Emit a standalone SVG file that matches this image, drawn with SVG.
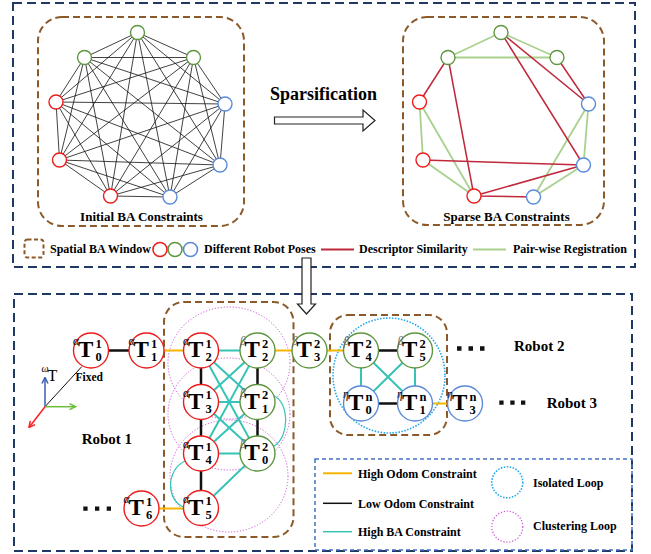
<svg xmlns="http://www.w3.org/2000/svg" width="651" height="554" viewBox="0 0 651 554">
<style>
text{font-family:"Liberation Serif","Times New Roman",serif;font-weight:bold;fill:#000}
.lbl{font-size:13px}
.leg{font-size:12px}
.rob{font-size:15px}
.T{font-size:23px}
.s{font-size:12.5px}
.g{font-size:11.5px;font-style:italic;font-weight:normal}
.gb{font-size:11.5px;font-style:italic;font-weight:normal;fill:#666}
.navy{fill:none;stroke:#203864;stroke-width:2;stroke-dasharray:9 5}
.win{fill:none;stroke:#8c5a2a;stroke-width:2;stroke-dasharray:7 4}
.nr{fill:#fff;stroke:#ee1c1c;stroke-width:1.4}
.ng{fill:#fff;stroke:#5e9640;stroke-width:1.4}
.nb{fill:#fff;stroke:#5a8ad8;stroke-width:1.4}
.k9{fill:none;stroke:#111;stroke-width:0.8}
.dsim{fill:none;stroke:#c0283c;stroke-width:1.5}
.preg{fill:none;stroke:#a9d18e;stroke-width:1.8}
.odl{fill:none;stroke:#111;stroke-width:2.5}
.odh{fill:none;stroke:#f7b500;stroke-width:2}
.ba{fill:none;stroke:#35c4b5;stroke-width:2}
.bac{fill:none;stroke:#35c4b5;stroke-width:1.2}
.cl{fill:none;stroke:#cf55dd;stroke-width:1;stroke-dasharray:1.2 1.8}
.iso{fill:none;stroke:#1fa8f0;stroke-width:1.6;stroke-dasharray:1.5 1.5}
.harrow{fill:#fff;stroke:#222;stroke-width:1.2}
</style>
<defs>
<marker id="mb" markerUnits="userSpaceOnUse" markerWidth="8" markerHeight="8" viewBox="0 0 8 8" refX="7" refY="4" orient="auto"><path d="M1,1 L7,4 L1,7" fill="none" stroke="#3a5fb0" stroke-width="1.5"/></marker>
<marker id="mg" markerUnits="userSpaceOnUse" markerWidth="8" markerHeight="8" viewBox="0 0 8 8" refX="7" refY="4" orient="auto"><path d="M1,1 L7,4 L1,7" fill="none" stroke="#6abf3a" stroke-width="1.5"/></marker>
<marker id="mr" markerUnits="userSpaceOnUse" markerWidth="8" markerHeight="8" viewBox="0 0 8 8" refX="7" refY="4" orient="auto"><path d="M1,1 L7,4 L1,7" fill="none" stroke="#ff2020" stroke-width="1.5"/></marker>
<g id="topnodes">
<circle class="ng" cx="137.5" cy="32.5" r="7"/>
<circle class="ng" cx="84.5" cy="57.5" r="7"/>
<circle class="ng" cx="193.5" cy="57.5" r="7"/>
<circle class="nr" cx="56" cy="102" r="7"/>
<circle class="nb" cx="225" cy="104" r="7"/>
<circle class="nr" cx="59.5" cy="160" r="7"/>
<circle class="nb" cx="220" cy="165" r="7"/>
<circle class="nr" cx="110.5" cy="196" r="7"/>
<circle class="nb" cx="170" cy="197" r="7"/>
</g>
</defs>

<!-- outer frames -->
<rect class="navy" x="13" y="3" width="622" height="264"/>
<rect class="navy" x="14" y="294" width="618" height="257"/>

<!-- Top: initial BA constraints -->
<g id="initial">
<rect class="win" x="38" y="17" width="206" height="209" rx="24"/>
<path class="k9" d="M137.5 32.5L84.5 57.5M137.5 32.5L193.5 57.5M137.5 32.5L56 102M137.5 32.5L225 104M137.5 32.5L59.5 160M137.5 32.5L220 165M137.5 32.5L110.5 196M137.5 32.5L170 197M84.5 57.5L193.5 57.5M84.5 57.5L56 102M84.5 57.5L225 104M84.5 57.5L59.5 160M84.5 57.5L220 165M84.5 57.5L110.5 196M84.5 57.5L170 197M193.5 57.5L56 102M193.5 57.5L225 104M193.5 57.5L59.5 160M193.5 57.5L220 165M193.5 57.5L110.5 196M193.5 57.5L170 197M56 102L225 104M56 102L59.5 160M56 102L220 165M56 102L110.5 196M56 102L170 197M225 104L59.5 160M225 104L220 165M225 104L110.5 196M225 104L170 197M59.5 160L220 165M59.5 160L110.5 196M59.5 160L170 197M220 165L110.5 196M220 165L170 197M110.5 196L170 197"/>
<use href="#topnodes"/>
<text class="lbl" x="141.5" y="220.5" text-anchor="middle">Initial BA Constraints</text>
</g>

<g id="sparsification">
<text x="323.5" y="100" text-anchor="middle" style="font-size:18px">Sparsification</text>
<polygon class="harrow" points="274.5,117 363,117 363,110 375,120.5 363,131 363,124 274.5,124"/>
</g>

<!-- Top: sparse BA constraints -->
<g id="sparse">
<rect class="win" x="403" y="17" width="201" height="208" rx="24"/>
<g transform="translate(363.5,0)">
<path class="preg" d="M137.5 32.5L84.5 57.5M137.5 32.5L193.5 57.5M84.5 57.5L193.5 57.5M56 102L59.5 160M56 102L110.5 196M59.5 160L110.5 196M225 104L220 165M225 104L170 197M220 165L170 197"/>
<path class="dsim" d="M84.5 57.5L56 102M84.5 57.5L110.5 196M137.5 32.5L220 165M137.5 32.5L225 104M193.5 57.5L225 104M59.5 160L220 165M110.5 196L220 165M110.5 196L170 197"/>
<use href="#topnodes"/>
</g>
<text class="lbl" x="506.5" y="221" text-anchor="middle">Sparse BA Constraints</text>
</g>

<!-- Top legend -->
<g id="top-legend">
<rect class="win" x="24.5" y="239.5" width="19" height="18" rx="3" style="stroke-dasharray:4 2.5"/>
<text class="leg" x="50" y="253">Spatial BA Window</text>
<circle class="nr" cx="160" cy="249.5" r="7" style="stroke-width:1.6"/>
<circle class="ng" cx="175" cy="249.5" r="7" style="stroke-width:1.6"/>
<circle class="nb" cx="190.5" cy="249.5" r="7" style="stroke-width:1.6"/>
<text class="leg" x="204" y="253">Different Robot Poses</text>
<line class="dsim" x1="321" y1="249.5" x2="354" y2="249.5" style="stroke-width:2"/>
<text class="leg" x="359" y="253">Descriptor Similarity</text>
<line class="preg" x1="473" y1="249.5" x2="506" y2="249.5" style="stroke-width:2"/>
<text class="leg" x="513" y="253">Pair-wise Registration</text>
</g>

<!-- down arrow -->
<polygon id="down-arrow" class="harrow" points="302,258 311,258 311,304 315.5,304 306.5,314 297.5,304 302,304"/>

<!-- windows and loops -->
<g id="windows">
<rect class="win" x="164" y="302" width="129.5" height="235" rx="20"/>
<rect class="win" x="330" y="315" width="117" height="120" rx="18"/>
<ellipse class="cl" cx="229" cy="363" rx="61" ry="56"/>
<ellipse class="cl" cx="229" cy="414" rx="61" ry="56"/>
<ellipse class="cl" cx="229" cy="476" rx="59" ry="56"/>
<ellipse class="iso" cx="389" cy="375.5" rx="56" ry="57.5"/>
</g>

<!-- axes -->
<g id="axes">
<line x1="45" y1="406.7" x2="81.7" y2="366.7" stroke="#111" stroke-width="1"/>
<line x1="45" y1="406.7" x2="45" y2="377.5" stroke="#3a5fb0" stroke-width="1.5" marker-end="url(#mb)"/>
<line x1="45" y1="406.7" x2="75.5" y2="406.7" stroke="#6abf3a" stroke-width="1.5" marker-end="url(#mg)"/>
<line x1="45" y1="406.7" x2="29" y2="427.5" stroke="#ff2020" stroke-width="1.5" marker-end="url(#mr)"/>
<text x="41.5" y="372" class="g" style="font-size:10px">ω</text>
<text x="47.5" y="380.5" style="font-size:16px;font-weight:normal">T</text>
<text x="75.5" y="380.5" style="font-size:11.5px">Fixed</text>
</g>

<!-- connectors -->
<g id="connectors">
<path class="odl" d="M91 350.5H146.5M201 350.5V508M257.5 350.5V453.5M361 350.5H415M361 403.5H415"/>
<path class="odh" d="M146.5 350.5H201M257.5 350.5H361M415 403.5H465M141.5 508.5H201"/>
<path class="ba" d="M201 350.5H257.5M201 402H257.5M201 453.5H257.5M201 508L257.5 453.5M201 350.5L257.5 402M201 350.5L257.5 453.5M201 402L257.5 350.5M201 402L257.5 453.5M201 453.5L257.5 350.5M201 453.5L257.5 402M361 350.5V403.5M415 350.5V403.5M361 350.5L415 403.5M415 350.5L361 403.5"/>
<path class="bac" d="M274 396C289 402 290 437 274 446M185 461C166 470 166 500 183.5 507"/>
</g>

<!-- nodes -->
<g id="a0"><circle class="nr" cx="91" cy="350.5" r="17.5"/><text><tspan class="g" x="73" y="345">α</tspan><tspan class="T" x="78" y="357">T</tspan><tspan class="s" x="95.5" y="347.5">1</tspan><tspan class="s" x="95.5" y="361">0</tspan></text></g>
<g id="a1"><circle class="nr" cx="146.5" cy="350.5" r="17.5"/><text><tspan class="g" x="128.5" y="345">α</tspan><tspan class="T" x="133.5" y="357">T</tspan><tspan class="s" x="151" y="347.5">1</tspan><tspan class="s" x="151" y="361">1</tspan></text></g>
<g id="a2"><circle class="nr" cx="201" cy="350.5" r="17.5"/><text><tspan class="g" x="183" y="345">α</tspan><tspan class="T" x="188" y="357">T</tspan><tspan class="s" x="205.5" y="347.5">1</tspan><tspan class="s" x="205.5" y="361">2</tspan></text></g>
<g id="a3"><circle class="nr" cx="201" cy="402" r="17.5"/><text><tspan class="g" x="183" y="396.5">α</tspan><tspan class="T" x="188" y="408.5">T</tspan><tspan class="s" x="205.5" y="399">1</tspan><tspan class="s" x="205.5" y="412.5">3</tspan></text></g>
<g id="a4"><circle class="nr" cx="201" cy="453.5" r="17.5"/><text><tspan class="g" x="183" y="448">α</tspan><tspan class="T" x="188" y="460">T</tspan><tspan class="s" x="205.5" y="450.5">1</tspan><tspan class="s" x="205.5" y="464">4</tspan></text></g>
<g id="a5"><circle class="nr" cx="201" cy="508" r="17.5"/><text><tspan class="g" x="183" y="502.5">α</tspan><tspan class="T" x="188" y="514.5">T</tspan><tspan class="s" x="205.5" y="505">1</tspan><tspan class="s" x="205.5" y="518.5">5</tspan></text></g>
<g id="a6"><circle class="nr" cx="141.5" cy="508.5" r="17.5"/><text><tspan class="g" x="123.5" y="503">α</tspan><tspan class="T" x="128.5" y="515">T</tspan><tspan class="s" x="146" y="505.5">1</tspan><tspan class="s" x="146" y="519">6</tspan></text></g>
<g id="b2"><circle class="ng" cx="257.5" cy="350.5" r="17.5"/><text><tspan class="gb" x="240" y="345">β</tspan><tspan class="T" x="244.5" y="357">T</tspan><tspan class="s" x="262" y="347.5">2</tspan><tspan class="s" x="262" y="361">2</tspan></text></g>
<g id="b1"><circle class="ng" cx="257.5" cy="402" r="17.5"/><text><tspan class="gb" x="240" y="396.5">β</tspan><tspan class="T" x="244.5" y="408.5">T</tspan><tspan class="s" x="262" y="399">2</tspan><tspan class="s" x="262" y="412.5">1</tspan></text></g>
<g id="b0"><circle class="ng" cx="257.5" cy="453.5" r="17.5"/><text><tspan class="gb" x="240" y="448">β</tspan><tspan class="T" x="244.5" y="460">T</tspan><tspan class="s" x="262" y="450.5">2</tspan><tspan class="s" x="262" y="464">0</tspan></text></g>
<g id="b3"><circle class="ng" cx="309.5" cy="350.5" r="17.5"/><text><tspan class="gb" x="292" y="345">β</tspan><tspan class="T" x="296.5" y="357">T</tspan><tspan class="s" x="314" y="347.5">2</tspan><tspan class="s" x="314" y="361">3</tspan></text></g>
<g id="b4"><circle class="ng" cx="361" cy="350.5" r="17.5"/><text><tspan class="gb" x="343.5" y="345">β</tspan><tspan class="T" x="348" y="357">T</tspan><tspan class="s" x="365.5" y="347.5">2</tspan><tspan class="s" x="365.5" y="361">4</tspan></text></g>
<g id="b5"><circle class="ng" cx="415" cy="350.5" r="17.5"/><text><tspan class="gb" x="397.5" y="345">β</tspan><tspan class="T" x="402" y="357">T</tspan><tspan class="s" x="419.5" y="347.5">2</tspan><tspan class="s" x="419.5" y="361">5</tspan></text></g>
<g id="e0"><circle class="nb" cx="361" cy="403.5" r="17.5"/><text><tspan class="g" x="343" y="398">η</tspan><tspan class="T" x="348" y="410">T</tspan><tspan class="s" x="365.5" y="400.5">n</tspan><tspan class="s" x="365.5" y="414">0</tspan></text></g>
<g id="e1"><circle class="nb" cx="415" cy="403.5" r="17.5"/><text><tspan class="g" x="397" y="398">η</tspan><tspan class="T" x="402" y="410">T</tspan><tspan class="s" x="419.5" y="400.5">n</tspan><tspan class="s" x="419.5" y="414">1</tspan></text></g>
<g id="e3"><circle class="nb" cx="465" cy="403.5" r="17.5"/><text><tspan class="g" x="447" y="398">η</tspan><tspan class="T" x="452" y="410">T</tspan><tspan class="s" x="469.5" y="400.5">n</tspan><tspan class="s" x="469.5" y="414">3</tspan></text></g>

<!-- robot labels and ellipsis dots -->
<g id="robots">
<text class="rob" x="81.7" y="444">Robot 1</text>
<text class="rob" x="514" y="351">Robot 2</text>
<text class="rob" x="546.7" y="407.5">Robot 3</text>
<path fill="#111" d="M457 346.3h4.5v4.5h-4.5zM468.5 346.3h4.5v4.5h-4.5zM480 346.3h4.5v4.5h-4.5zM499.3 400.5h4.3v4.3h-4.3zM510.3 400.5h4.3v4.3h-4.3zM521 400.5h4.3v4.3h-4.3zM83.3 506.5h4.3v4.3h-4.3zM95 506.5h4.3v4.3h-4.3zM106.7 506.5h4.3v4.3h-4.3z"/>
</g>

<!-- bottom legend -->
<g id="bottom-legend">
<rect x="315" y="459" width="317" height="91" fill="none" stroke="#4472c4" stroke-width="1.5" stroke-dasharray="4 3"/>
<line class="odh" x1="323" y1="473.3" x2="352" y2="473.3"/>
<text class="leg" x="358" y="477.5">High Odom Constraint</text>
<line x1="323" y1="503.3" x2="352" y2="503.3" stroke="#111" stroke-width="1.5"/>
<text class="leg" x="358" y="507.5">Low Odom Constraint</text>
<line class="ba" x1="323" y1="531.7" x2="352" y2="531.7" style="stroke-width:1.5"/>
<text class="leg" x="358" y="536">High BA Constraint</text>
<circle class="iso" cx="507.3" cy="482.3" r="15.5"/>
<text class="leg" x="533" y="486.5">Isolated Loop</text>
<circle class="cl" cx="507.3" cy="526.7" r="15.5" style="stroke-width:1.3"/>
<text class="leg" x="533" y="529.5">Clustering Loop</text>
</g>
</svg>
